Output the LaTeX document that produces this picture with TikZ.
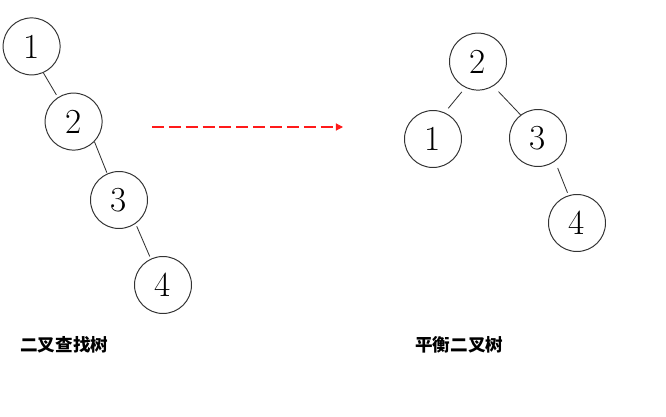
\documentclass[tikz,border=0pt]{standalone}
\usepackage{fontspec}
\newfontfamily\cjk{Noto Sans CJK SC}
\usetikzlibrary{arrows.meta,calc,positioning}
\definecolor{ink}{HTML}{333333}
\definecolor{dashred}{HTML}{FF1A1A}
\tikzset{>=Latex,line width=.7pt,
  keynode/.style={circle,draw=ink,line width=.7pt,minimum size=1.425cm,inner sep=0pt,
    font=\fontsize{25}{30}\selectfont},
  link/.style={draw=ink,line width=.6pt},
  turn/.style={-{Triangle[length=5pt,width=5pt]},draw=dashred,line width=.75pt,dash pattern=on 8.5pt off 3.5pt},
  caption/.style={anchor=west,inner sep=0pt,font=\cjk\bfseries\fontsize{12.5}{15}\selectfont}}

\begin{document}
\begin{tikzpicture}
\path[use as bounding box] (0,0) rectangle (16.65,-10.425);
% binary search tree
\node[keynode] (l1) at (.79,-1.16) {1};\node[keynode] (l2) at (1.84,-3.04) {2};
\node[keynode] (l3) at (2.975,-5.0) {3};\node[keynode] (l4) at (4.075,-7.125) {4};
\draw[link,shorten >=2pt] (l1.-66)--(l2.123);\draw[link,shorten >=.7pt] (l2.-44)--(l3.114);
\draw[link,shorten <=2pt,shorten >=1.8pt] (l3.-55)--(l4.115);
% balanced tree
\node[keynode] (r2) at (11.95,-1.54) {2};\node[keynode] (r1) at (10.825,-3.475) {1};
\node[keynode] (r3) at (13.45,-3.45) {3};\node[keynode] (r4) at (14.425,-5.575) {4};
\draw[link,shorten <=3.9pt,shorten >=3.9pt] (r2.-116)--(r1.66);
\draw[link,shorten <=5.3pt] (r2.-58)--(r3.127);
\draw[link,shorten <=5pt,shorten >=2pt] (r3.-54)--(r4.107);
\coordinate (arrS) at (3.8,-3.175);\coordinate (arrE) at (8.575,-3.175);
\draw[turn] (arrS)--(arrE);
\node[caption] (capL) at (.5,-8.625) {二叉查找树};\node[caption] (capR) at (10.375,-8.625) {平衡二叉树};
\end{tikzpicture}
\end{document}
